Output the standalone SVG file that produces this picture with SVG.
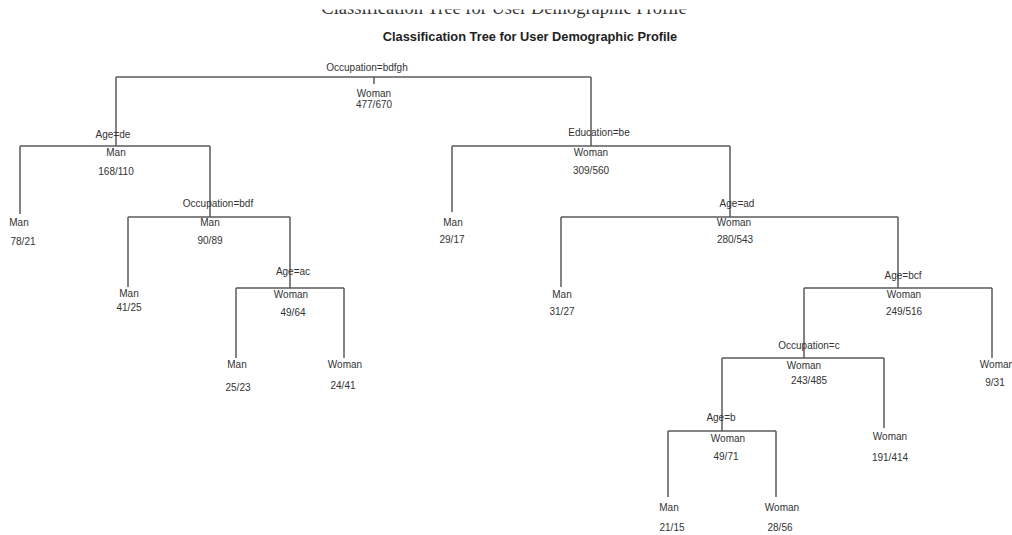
<svg xmlns="http://www.w3.org/2000/svg" width="1012" height="535" viewBox="0 0 1012 535">
<style>
text{font-family:"Liberation Sans",Arial,sans-serif;font-size:10px;fill:#333;text-anchor:middle}
.title{font-size:12.8px;font-weight:bold;fill:#222}
.ghost{font-family:"Liberation Serif","Times New Roman",serif;font-size:18.5px;fill:#333}
.c line{stroke:#5a5a5a;stroke-width:1.5;fill:none}
</style>
<defs>
<clipPath id="clipTop"><rect x="0" y="9.5" width="1012" height="10"/></clipPath>
</defs>
<rect width="1012" height="535" fill="#fff"/>
<text class="ghost" x="504" y="13.5" clip-path="url(#clipTop)">Classification Tree for User Demographic Profile</text>
<text class="title" x="530" y="41">Classification Tree for User Demographic Profile</text>
<g id="connectors" class="c">
<line x1="116" y1="77" x2="591" y2="77"/>
<line x1="374" y1="77" x2="374" y2="84"/>
<line x1="116" y1="77" x2="116" y2="146"/>
<line x1="591" y1="77" x2="591" y2="146"/>
<line x1="20" y1="146" x2="210" y2="146"/>
<line x1="20" y1="146" x2="20" y2="214"/>
<line x1="210" y1="146" x2="210" y2="217"/>
<line x1="128" y1="217" x2="290" y2="217"/>
<line x1="128" y1="217" x2="128" y2="287"/>
<line x1="290" y1="217" x2="290" y2="288"/>
<line x1="236" y1="288" x2="344" y2="288"/>
<line x1="236" y1="288" x2="236" y2="358"/>
<line x1="344" y1="288" x2="344" y2="358"/>
<line x1="452" y1="146" x2="730" y2="146"/>
<line x1="452" y1="146" x2="452" y2="212"/>
<line x1="730" y1="146" x2="730" y2="217"/>
<line x1="561" y1="217" x2="898" y2="217"/>
<line x1="561" y1="217" x2="561" y2="287"/>
<line x1="898" y1="217" x2="898" y2="288"/>
<line x1="804" y1="288" x2="992" y2="288"/>
<line x1="804" y1="288" x2="804" y2="358"/>
<line x1="992" y1="288" x2="992" y2="358"/>
<line x1="722" y1="358" x2="884" y2="358"/>
<line x1="722" y1="358" x2="722" y2="431"/>
<line x1="884" y1="358" x2="884" y2="428"/>
<line x1="668" y1="431" x2="776" y2="431"/>
<line x1="668" y1="431" x2="668" y2="497"/>
<line x1="776" y1="431" x2="776" y2="497"/>
</g>
<g id="n1"><text x="367" y="71">Occupation=bdfgh</text><text x="374" y="97">Woman</text><text x="374" y="108">477/670</text></g>
<g id="n2"><text x="113" y="138">Age=de</text><text x="116" y="156">Man</text><text x="116" y="175">168/110</text></g>
<g id="n3"><text x="19" y="226">Man</text><text x="23" y="245">78/21</text></g>
<g id="n4"><text x="218" y="207">Occupation=bdf</text><text x="210" y="226">Man</text><text x="210" y="244">90/89</text></g>
<g id="n5"><text x="129" y="297">Man</text><text x="129" y="311">41/25</text></g>
<g id="n6"><text x="293" y="275">Age=ac</text><text x="291" y="298">Woman</text><text x="293" y="316">49/64</text></g>
<g id="n7"><text x="237" y="368">Man</text><text x="238" y="391">25/23</text></g>
<g id="n8"><text x="345" y="368">Woman</text><text x="343" y="389">24/41</text></g>
<g id="n9"><text x="599" y="136">Education=be</text><text x="591" y="156">Woman</text><text x="591" y="174">309/560</text></g>
<g id="n10"><text x="453" y="226">Man</text><text x="452" y="243">29/17</text></g>
<g id="n11"><text x="737" y="207">Age=ad</text><text x="734" y="226">Woman</text><text x="735" y="243">280/543</text></g>
<g id="n12"><text x="562" y="298">Man</text><text x="562" y="315">31/27</text></g>
<g id="n13"><text x="903" y="279">Age=bcf</text><text x="904" y="298">Woman</text><text x="904" y="315">249/516</text></g>
<g id="n14"><text x="809" y="349">Occupation=c</text><text x="804" y="369">Woman</text><text x="809" y="384">243/485</text></g>
<g id="n15"><text x="997" y="368">Woman</text><text x="995" y="386">9/31</text></g>
<g id="n16"><text x="721" y="421">Age=b</text><text x="728" y="442">Woman</text><text x="726" y="460">49/71</text></g>
<g id="n17"><text x="890" y="440">Woman</text><text x="890" y="461">191/414</text></g>
<g id="n18"><text x="669" y="511">Man</text><text x="672" y="531">21/15</text></g>
<g id="n19"><text x="782" y="511">Woman</text><text x="780" y="531">28/56</text></g>
</svg>
